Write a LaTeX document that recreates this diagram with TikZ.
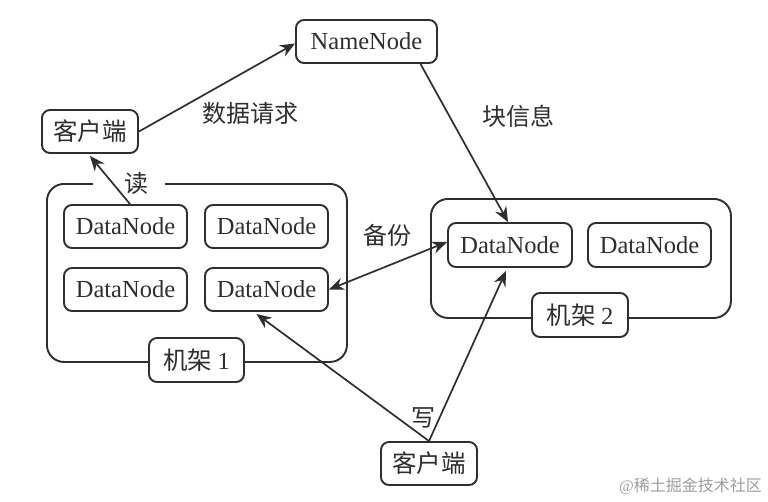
\documentclass[tikz,border=0pt]{standalone}
\usepackage{fontspec}
\setmainfont{Liberation Serif}
\newfontfamily\cjk{Noto Sans CJK SC}
\usetikzlibrary{arrows.meta}
\definecolor{ink}{HTML}{2E2E2E}
\tikzset{
  x=1pt,y=-1pt,
  box/.style={draw=ink,line width=1.9pt,rounded corners=8pt,inner sep=0pt,text=ink,font=\fontsize{24.5}{24.5}\selectfont,fill=white},
  rack/.style={draw=ink,line width=1.9pt,rounded corners=17pt,inner sep=0pt},
  conn/.style={draw=ink,line width=1.7pt,-{Stealth[length=15pt,width=12.5pt]}},
  both/.style={draw=ink,line width=1.7pt,{Stealth[length=15pt,width=12.5pt]}-{Stealth[length=15pt,width=12.5pt]}},
  lab/.style={text=ink,inner sep=0pt,font=\fontsize{24}{24}\selectfont},
  wmark/.style={text=black!38,inner sep=0pt,font=\fontsize{16}{16}\selectfont},
}
\begin{document}
\begin{tikzpicture}
\useasboundingbox (0,0) rectangle (768,501);
\fill[white] (0,0) rectangle (768,501);
\node[rack,minimum width=300,minimum height=178,anchor=north west] (r1) at (46,183) {};
\node[rack,minimum width=300,minimum height=119,anchor=north west] (r2) at (430,198) {};
\fill[white] (93,176) rectangle (165,192);
\node[lab] (du) at (136,183) {\cjk 读};
\node[box,minimum width=141,minimum height=43] (nn) at (366.5,41.5) {NameNode};
\node[box,minimum width=96,minimum height=43] (c1) at (90,131.5) {\cjk 客户端};
\node[box,minimum width=123,minimum height=43] (d1) at (125.5,226.5) {DataNode};
\node[box,minimum width=123,minimum height=43] (d2) at (266.5,226.5) {DataNode};
\node[box,minimum width=123,minimum height=43] (d3) at (125.5,289.5) {DataNode};
\node[box,minimum width=123,minimum height=43] (d4) at (266.5,289.5) {DataNode};
\node[box,minimum width=124,minimum height=44] (d5) at (510,245) {DataNode};
\node[box,minimum width=123,minimum height=44] (d6) at (649.5,245) {DataNode};
\node[box,minimum width=95,minimum height=44] (j1) at (196.5,360) {\cjk 机架 \rmfamily 1};
\node[box,minimum width=96,minimum height=44] (j2) at (580,315) {\cjk 机架 \rmfamily 2};
\node[box,minimum width=96,minimum height=43] (c2) at (429,463.5) {\cjk 客户端};
\node[lab] (l1) at (250,113) {\cjk 数据请求};
\node[lab] (l2) at (518,116) {\cjk 块信息};
\node[lab] (l3) at (387,235) {\cjk 备份};
\node[lab] (l4) at (423,418) {\cjk 写};
\node[wmark,anchor=east] (wm) at (762,486) {@\cjk 稀土掘金技术社区};
\draw[conn] (c1.east) -- ([yshift=-2pt]nn.west);
\draw[conn] ([xshift=54pt]nn.south) -- ([xshift=-2pt]d5.north);
\draw[conn] ([xshift=4.5pt]d1.north) -- ([yshift=-2pt]c1.south);
\draw[both] (d4.east) -- ([yshift=3pt]d5.west);
\draw[conn] (c2.north) -- ([xshift=-10pt,yshift=-2pt]d4.south);
\draw[conn] (c2.north) -- ([xshift=-4pt,yshift=-3pt]d5.south);
\end{tikzpicture}
\end{document}
